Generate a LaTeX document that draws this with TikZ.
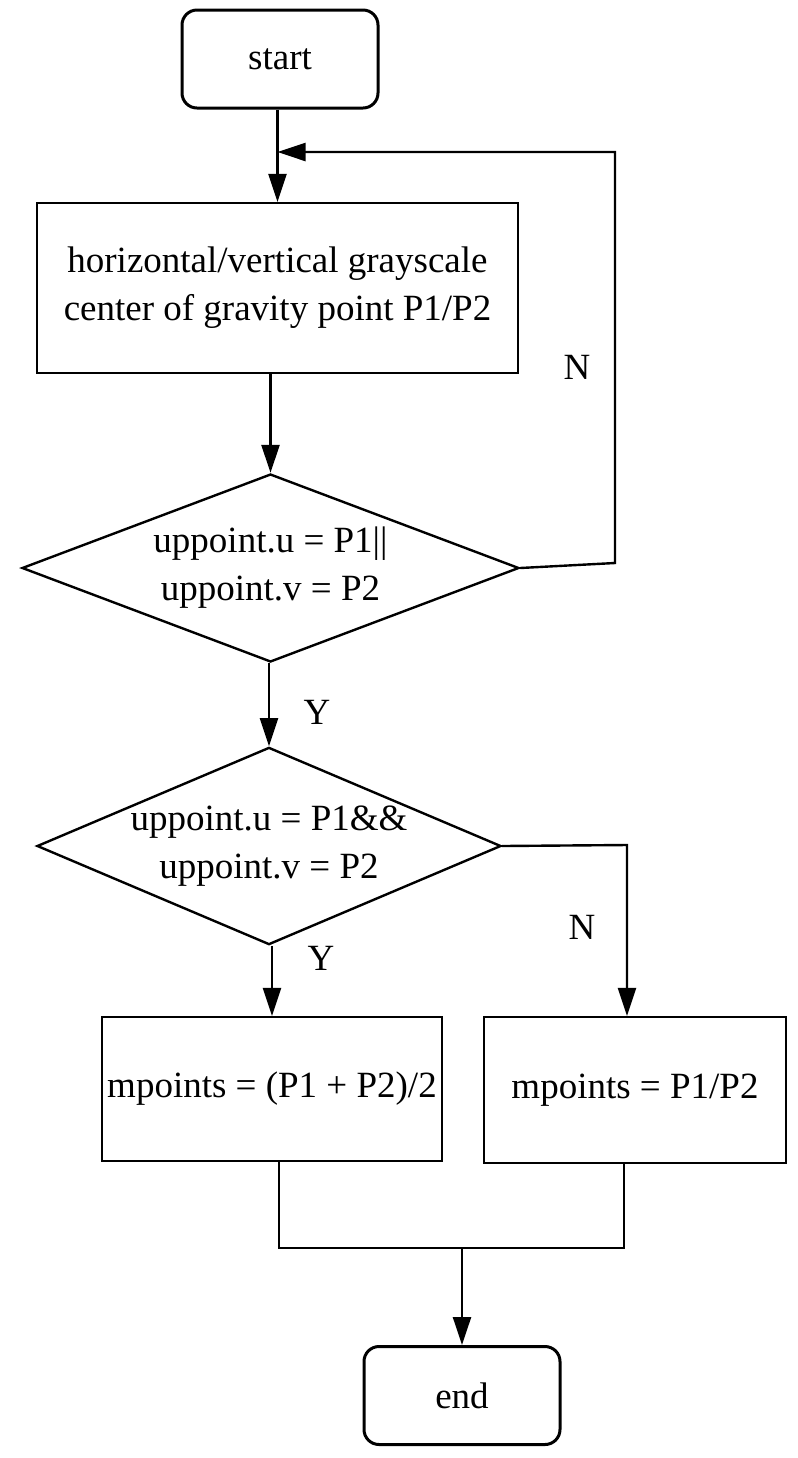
\documentclass[tikz,border=0pt]{standalone}
\usepackage{fontspec}
\setmainfont{Liberation Serif}
\usetikzlibrary{arrows.meta,shapes.geometric}

\begin{document}
\begin{tikzpicture}[x=0.5pt, y=-0.5pt,
  font=\fontsize{18.5}{24}\selectfont,
  box/.style={draw, line width=1.1pt, align=center, inner sep=0pt},
  term/.style={box, rounded corners=7.5pt, line width=1.5pt,
               minimum width=98pt, minimum height=49pt},
  dec/.style={box, diamond, inner sep=-20pt, line width=1.2pt},
  lbl/.style={inner sep=0pt},
  arr/.style={line width=1.2pt, -{Triangle[length=14pt, width=9pt]}}]
\useasboundingbox (0,0) rectangle (798,1458);
\node[term] (start) at (280,59) {start};
\node[box, minimum width=240.5pt, minimum height=85pt] (grav) at (277.5,288)
  {horizontal/vertical grayscale\\center of gravity point P1/P2};
\node[dec, minimum width=248.5pt, minimum height=94pt] (orq) at (270.5,568)
  {uppoint.u = P1||\\uppoint.v = P2};
\node[dec, minimum width=232pt, minimum height=87pt] (andq) at (269,846)
  {uppoint.u = P1\&\&\\uppoint.v = P2};
\node[box, minimum width=170pt, minimum height=72pt] (mean) at (272,1089)
  {mpoints = (P1 + P2)/2};
\node[box, minimum width=151pt, minimum height=73pt] (pick) at (635,1090)
  {mpoints = P1/P2};
\node[term] (stop) at (462,1395.5) {end};
% branch labels
\node[lbl] (n1) at (577,367) {N};
\node[lbl] (y1) at (317,712) {Y};
\node[lbl] (n2) at (582,927) {N};
\node[lbl] (y2) at (321,958) {Y};
% bends
\coordinate (fb1) at (615,563);
\coordinate (fb2) at (615,152);
\coordinate (fb3) at (277.5,152);
\coordinate (br) at (627,845);
\coordinate (jl) at (279,1248);
\coordinate (jr) at (624,1248);
\coordinate (jm) at (462,1248);
\foreach \x/\y in {start/grav,grav/orq,orq/andq,andq/mean}
  \draw[arr] (\x.south -| \y.north) -- (\y.north);
\draw[arr] (orq.east) -- (fb1) -- (fb2) -- (fb3);
\draw[arr] (andq.east) -- (br) -- (br |- pick.north);
\draw[line width=1.2pt] (jl |- mean.south) -- (jl) -- (jr) -- (jr |- pick.south);
\draw[arr] (jm) -- (stop.north);
\end{tikzpicture}
\end{document}
